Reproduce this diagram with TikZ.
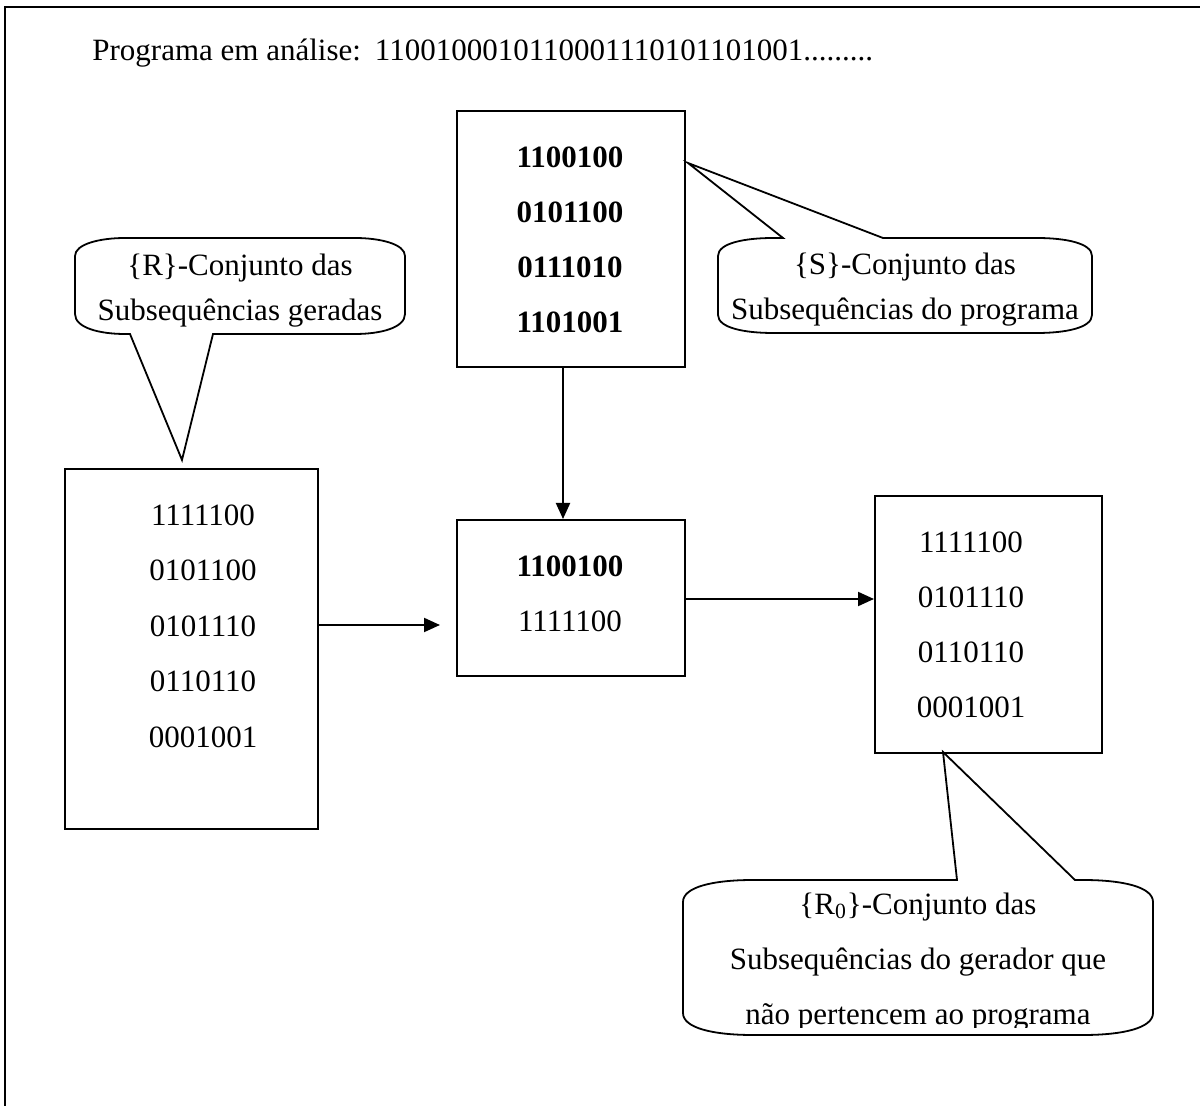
\documentclass[tikz,border=0pt]{standalone}
\usepackage{fontspec}
\setmainfont{Liberation Serif}
\usetikzlibrary{arrows.meta}
\begin{document}
\begin{tikzpicture}[x=0.5pt,y=-0.5pt,
  font=\fontsize{15.5}{27.5}\selectfont,
  frame/.style={line width=1.2pt},
  box/.style={draw, line width=1pt, inner sep=0pt, anchor=north west},
  rows/.style={align=center, inner sep=0pt},
  arr/.style={line width=1pt, -{Triangle[length=8pt,width=7pt]}},
  bubble/.style={draw, fill=white, line width=0.9pt, line join=miter},
  note/.style={align=center, inner sep=0pt, font=\fontsize{15.5}{22.5}\selectfont},
  longnote/.style={align=center, inner sep=0pt, font=\fontsize{15.5}{27.5}\selectfont}]
\useasboundingbox (0,0) rectangle (1200,1106);

% page frame (top and left rules)
\draw[frame] (1200,7) -- (5,7) -- (5,1106);

% heading
\node[anchor=base west, inner sep=0pt] (title) at (92,61)
  {Programa em análise:\hspace{7pt}1100100010110001110101101001.........};

% boxes
\node[box, minimum width=114pt, minimum height=128pt] (S) at (456,110) {};
\node[box, minimum width=114pt, minimum height=78pt] (M) at (456,519) {};
\node[box, minimum width=126.5pt, minimum height=180pt] (R) at (64,468) {};
\node[box, minimum width=113.5pt, minimum height=128.5pt] (RO) at (874,495) {};

% box contents
\node[rows, font=\fontsize{15.5}{27.5}\selectfont\bfseries] (St) at (570,239.5)
  {1100100\\0101100\\0111010\\1101001};
\node[rows] (Mt) at (570,593.5) {\textbf{1100100}\\1111100};
\node[rows, font=\fontsize{15.5}{27.75}\selectfont] (Rt) at (203,626)
  {1111100\\0101100\\0101110\\0110110\\0001001};
\node[rows] (ROt) at (971,624.5) {1111100\\0101110\\0110110\\0001001};

% connectors
\coordinate (ya) at (0,625);
\coordinate (yb) at (0,599);
\draw[arr] ([xshift=-4pt]S.south) -- ([xshift=-4pt]M.north);
\draw[arr, shorten >=8pt] (R.east |- ya) -- (M.west |- ya);
\draw[arr] (M.east |- yb) -- (RO.west |- yb);

% callout {R}
\coordinate (tipR) at (182,460);
\draw[bubble] (75,256) -- (75,314) .. controls (75,328) and (100,334) .. (125,334)
  -- (130,334) -- (tipR) -- (213,334) -- (355,334)
  .. controls (380,334) and (405,328) .. (405,314) -- (405,256)
  .. controls (405,244) and (380,238) .. (355,238) -- (125,238)
  .. controls (100,238) and (75,244) .. (75,256) -- cycle;
\node[note] (Rn) at (240,291) {\{R\}-Conjunto das\\Subsequências geradas};

% callout {S}
\coordinate (tipS) at (688,163);
\draw[bubble] (718,256) -- (718,315) .. controls (718,328) and (745,333) .. (773,333)
  -- (1037,333) .. controls (1065,333) and (1092,328) .. (1092,315) -- (1092,256)
  .. controls (1092,243) and (1065,238) .. (1037,238) -- (883,238) -- (tipS)
  -- (783,238) -- (773,238) .. controls (745,238) and (718,243) .. (718,256) -- cycle;
\node[note] (Sn) at (905,290) {\{S\}-Conjunto das\\Subsequências do programa};

% callout {R0}
\coordinate (tipR0) at (943,752);
\draw[bubble] (683,902) -- (683,1013) .. controls (683,1028) and (713,1035) .. (753,1035)
  -- (1083,1035) .. controls (1123,1035) and (1153,1028) .. (1153,1013) -- (1153,902)
  .. controls (1153,887) and (1123,880) .. (1083,880) -- (1075,880) -- (tipR0)
  -- (957,880) -- (753,880) .. controls (713,880) and (683,887) .. (683,902) -- cycle;
\begin{scope}
  \clip (683,880) rectangle (1153,1027);
  \node[longnote] (R0n) at (918,962)
    {\{R\textsubscript{0}\}-Conjunto das\\Subsequências do gerador que\\não pertencem ao programa};
\end{scope}
\end{tikzpicture}
\end{document}
